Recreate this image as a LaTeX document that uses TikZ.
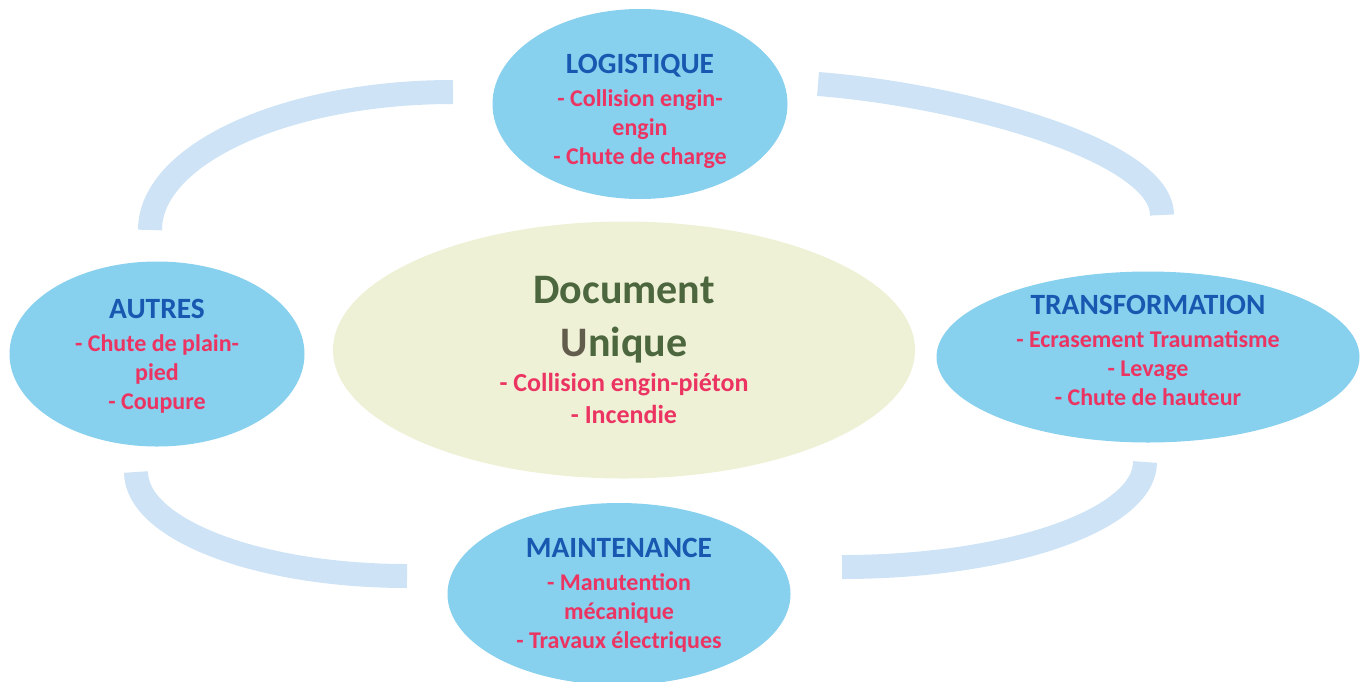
\documentclass[tikz,border=0pt]{standalone}
\usepackage{fontspec}
\setmainfont{Carlito}
\usepackage{tikz}
\usetikzlibrary{shapes.geometric}
\definecolor{PoleBlue}{RGB}{135,208,238}
\definecolor{RingBlue}{RGB}{206,228,246}
\definecolor{CoreGreen}{RGB}{238,241,214}
\definecolor{TitleBlue}{RGB}{24,88,176}
\definecolor{RiskRed}{RGB}{236,52,98}
\definecolor{DocGreen}{RGB}{76,102,62}
\definecolor{DocBrown}{RGB}{98,92,76}
\newcommand{\poletitle}[1]{\fontsize{14.7}{17}\selectfont\color{TitleBlue}#1}
\newcommand{\docline}[1]{\fontsize{21}{26}\selectfont\color{DocGreen}#1}
\tikzset{%
  PoleStyle/.style={ellipse,fill=PoleBlue,inner sep=0pt},
  PoleText/.style={inner sep=0pt,align=center,text=RiskRed,
    font=\bfseries\fontsize{12}{14.5}\selectfont},
  CoreStyle/.style={PoleStyle,PoleText,fill=CoreGreen,font=\bfseries\fontsize{13}{16}\selectfont},
  RingStyle/.style={draw=RingBlue,line width=12pt}
}

\begin{document}
\begin{tikzpicture}[x=0.5pt,y=-0.5pt]
  \useasboundingbox (0,0) rectangle (1364,681);
  % ring pieces
  \coordinate (tl1) at (453,92);   \coordinate (tl2) at (150,230);
  \coordinate (tr1) at (818,84);   \coordinate (tr2) at (1162,215);
  \coordinate (bl1) at (136,472);  \coordinate (bl2) at (407,576);
  \coordinate (br1) at (1145,462); \coordinate (br2) at (842,567);
  \draw[RingStyle] (tl1) .. controls (286,92) and (150,154) .. (tl2);
  \draw[RingStyle] (tr1) .. controls (960,95) and (1162,150) .. (tr2);
  \draw[RingStyle] (bl1) .. controls (136,529) and (257,576) .. (bl2);
  \draw[RingStyle] (br1) .. controls (1145,520) and (1009,567) .. (br2);
  % poles
  \node[PoleStyle,minimum width=147.5pt,minimum height=95pt] (logistique) at (640,104) {};
  \node[PoleText,yshift=-3.5pt] (logistique-txt) at (logistique.center)
    {\poletitle{LOGISTIQUE}\\[2pt] - Collision engin-\\ engin\\ - Chute de charge};
  \node[PoleStyle,minimum width=147.5pt,minimum height=92.5pt] (autres) at (157,354) {};
  \node[PoleText,yshift=-1.25pt] (autres-txt) at (autres.center)
    {\poletitle{AUTRES}\\[2pt] - Chute de plain-\\ pied\\ - Coupure};
  \node[PoleStyle,minimum width=211.5pt,minimum height=85.5pt] (transfo) at (1148,357) {};
  \node[PoleText,yshift=3.25pt] (transfo-txt) at (transfo.center)
    {\poletitle{TRANSFORMATION}\\[2pt] - Ecrasement Traumatisme\\ - Levage\\ - Chute de hauteur};
  \node[PoleStyle,minimum width=171.5pt,minimum height=91pt] (maintenance) at (619,594) {};
  \node[PoleText,yshift=-0.5pt] (maintenance-txt) at (maintenance.center)
    {\poletitle{MAINTENANCE}\\[2pt] - Manutention\\ mécanique\\ - Travaux électriques};
  % centre
  \node[CoreStyle,minimum width=291pt,minimum height=128.5pt] (doc) at (624,350)
    {\docline{Document}\\[10.5pt] \docline{\textcolor{DocBrown}{U}nique}\\[1.5pt]
     - Collision engin-piéton\\ - Incendie};
\end{tikzpicture}
\end{document}
